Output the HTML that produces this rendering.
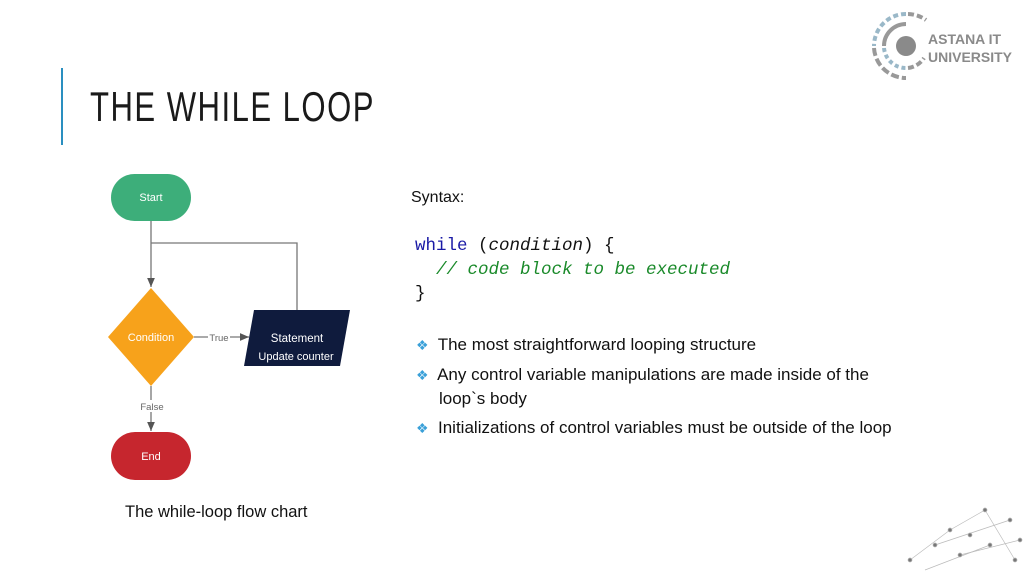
<!DOCTYPE html>
<html><head><meta charset="utf-8"><style>
body{margin:0;width:1024px;height:574px;background:#fff;position:relative;overflow:hidden;font-family:"Liberation Sans",sans-serif}
.a{position:absolute;white-space:nowrap}
</style></head><body>
<div class="a" style="left:61px;top:68px;width:2px;height:77px;background:#2a8fc0"></div>
<div class="a" style="left:90px;top:83px;font-size:42px;letter-spacing:2px;color:#1a1a1a;transform:scaleX(0.74);transform-origin:left">THE WHILE LOOP</div>
<svg class="a" style="left:866px;top:8px" width="64" height="76" viewBox="0 0 64 76">
<circle cx="40" cy="38" r="10" fill="#8a8a8a"/>
<g fill="none" stroke-width="4">
<path d="M40 16 A22 22 0 0 0 18 38" stroke="#999"/>
<path d="M18 40 A22 22 0 0 0 40 60" stroke="#9ab8c8" stroke-dasharray="4 3"/>
<path d="M42 60 A22 22 0 0 0 58 50" stroke="#999" stroke-dasharray="6 3"/>
<path d="M40 6 A32 32 0 0 0 8 38" stroke="#9ab8c8" stroke-dasharray="5 3"/>
<path d="M8 40 A32 32 0 0 0 40 70" stroke="#999" stroke-dasharray="8 3"/>
<path d="M42 6 A32 32 0 0 1 60 12" stroke="#999" stroke-dasharray="6 3"/>
</g></svg>
<div class="a" style="left:928px;top:30px;font-size:14px;font-weight:bold;color:#8a8a8a;line-height:18px">ASTANA IT<br>UNIVERSITY</div>
<svg class="a" style="left:0;top:0" width="1024" height="574">
<defs><marker id="ar" markerWidth="8" markerHeight="8" refX="7" refY="4" orient="auto"><path d="M0,1 L7,4 L0,7z" fill="#555"/></marker></defs>
<g stroke="#777" stroke-width="1.3" fill="none">
<line x1="151" y1="221" x2="151" y2="287" marker-end="url(#ar)"/>
<polyline points="151,243 297,243 297,310"/>
<line x1="194" y1="337" x2="249" y2="337" marker-end="url(#ar)"/>
<line x1="151" y1="386" x2="151" y2="431" marker-end="url(#ar)"/>
</g>
<rect x="111" y="174" width="80" height="47" rx="23.5" fill="#3dae7a"/>
<text x="151" y="201" fill="#fff" font-size="11" text-anchor="middle" font-family="Liberation Sans">Start</text>
<polygon points="151,288 194,337 151,386 108,337" fill="#f7a21b"/>
<text x="151" y="341" fill="#fff" font-size="11" text-anchor="middle" font-family="Liberation Sans">Condition</text>
<rect x="208" y="331" width="22" height="12" fill="#fff"/>
<text x="219" y="341" fill="#666" font-size="9.5" text-anchor="middle" font-family="Liberation Sans">True</text>
<polygon points="254,310 350,310 340,366 244,366" fill="#0f1b3d"/>
<text x="297" y="342" fill="#fff" font-size="11.5" text-anchor="middle" font-family="Liberation Sans">Statement</text>
<text x="296" y="360" fill="#fff" font-size="11" text-anchor="middle" font-family="Liberation Sans">Update counter</text>
<rect x="140" y="400" width="24" height="12" fill="#fff"/>
<text x="152" y="410" fill="#666" font-size="9.5" text-anchor="middle" font-family="Liberation Sans">False</text>
<rect x="111" y="432" width="80" height="48" rx="24" fill="#c6262e"/>
<text x="151" y="460" fill="#fff" font-size="11" text-anchor="middle" font-family="Liberation Sans">End</text>
<g stroke="#bbb" stroke-width="0.7" fill="#777">
<line x1="910" y1="560" x2="950" y2="530"/><line x1="950" y1="530" x2="985" y2="510"/><line x1="935" y1="545" x2="1010" y2="520"/><line x1="960" y1="555" x2="1020" y2="540"/><line x1="985" y1="510" x2="1015" y2="560"/><line x1="925" y1="570" x2="990" y2="545"/>
<circle cx="910" cy="560" r="2"/><circle cx="950" cy="530" r="2"/><circle cx="985" cy="510" r="2"/><circle cx="935" cy="545" r="2"/><circle cx="1010" cy="520" r="2"/><circle cx="960" cy="555" r="2"/><circle cx="1020" cy="540" r="2"/><circle cx="1015" cy="560" r="2"/><circle cx="990" cy="545" r="2"/><circle cx="970" cy="535" r="2"/>
</g>
</svg>
<div class="a" style="left:125px;top:503px;font-size:16.5px;color:#111">The while-loop flow chart</div>
<div class="a" style="left:411px;top:189px;font-size:16px;color:#111">Syntax:</div>
<div class="a" style="left:415px;top:234px;font-family:'Liberation Mono',monospace;font-size:17.5px;line-height:24px;color:#111;white-space:pre"><span style="color:#1a1aa6">while</span> (<i>condition</i>) {
  <i style="color:#1a8a2a">// code block to be executed</i>
}</div>
<div class="a" style="left:416px;top:333px;font-size:17px;line-height:23px;color:#111">
<div><span style="color:#3aa0d8;font-size:14px">❖</span>&nbsp; The most straightforward looping structure</div>
<div style="margin-top:6px"><span style="color:#3aa0d8;font-size:14px">❖</span>&nbsp; Any control variable manipulations are made inside of the</div>
<div style="padding-left:23px">loop`s body</div>
<div style="margin-top:6px"><span style="color:#3aa0d8;font-size:14px">❖</span>&nbsp; Initializations of control variables must be outside of the loop</div>
</div>
</body></html>
